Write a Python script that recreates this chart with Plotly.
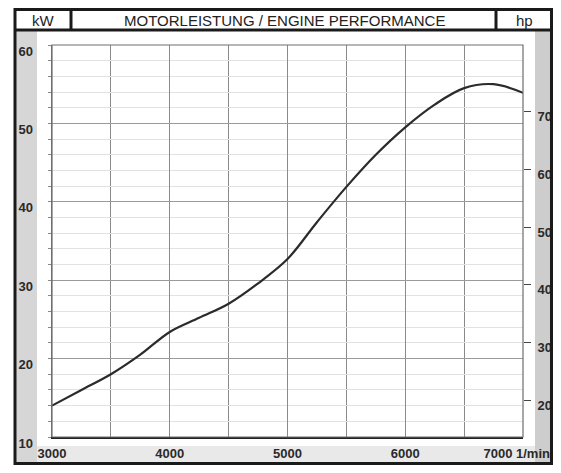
import plotly.graph_objects as go

# ---- data ----
rpm = [3000, 3250, 3500, 3750, 4000, 4250, 4500, 4750, 5000,
       5250, 5500, 5750, 6000, 6250, 6500, 6750, 7000]
kw = [14.0, 16.0, 18.0, 20.5, 23.4, 25.2, 27.0, 29.6, 32.7,
      37.4, 41.9, 46.0, 49.5, 52.4, 54.5, 55.0, 53.9]

x_ticks = [3000, 4000, 5000, 6000]
x_ticktext = ["3000", "4000", "5000", "6000"]
x_last_tick = [7000]
x_last_text = ["7000 1/min"]
kw_ticks = [10, 20, 30, 40, 50, 60]
hp_ticks = [20, 30, 40, 50, 60, 70]
KW_TO_HP = 1.35962

title_text = "MOTORLEISTUNG / ENGINE PERFORMANCE"
left_unit = "kW"
right_unit = "hp"

# ---- layout geometry ----
# page is 561x473; the html body keeps its default 8px margin,
# so the figure is 545x457 and sits at page offset (8, 8)
OFF = 8
W, H = 561 - 2 * OFF, 473 - 2 * OFF
# plot area in page pixels: x 52..523, y 45..437
L = 52 - OFF
R = W - (523 - OFF)
T = 45 - OFF
B = H - (437 - OFF)
PW, PH = W - L - R, H - T - B


def px(xp):
    """page pixel x -> paper coordinate"""
    return (xp - OFF - L) / PW


def py(yp):
    """page pixel y -> paper coordinate"""
    return (H - B - (yp - OFF)) / PH


LABEL_FONT = dict(family="Liberation Sans", size=13, color="#2a2a2a", weight="bold")

fig = go.Figure()
fig.add_trace(go.Scatter(
    x=rpm, y=kw, mode="lines",
    line=dict(color="#2b2b2b", width=2.2, shape="spline", smoothing=1.0),
    hoverinfo="skip", showlegend=False,
))
# invisible traces to activate the hp axis and the extra rpm label axis
fig.add_trace(go.Scatter(
    x=[rpm[0]], y=[kw[0] * KW_TO_HP], yaxis="y2", mode="markers",
    marker=dict(opacity=0), hoverinfo="skip", showlegend=False,
))
fig.add_trace(go.Scatter(
    x=[rpm[-1]], y=[kw[-1]], xaxis="x2", mode="markers",
    marker=dict(opacity=0), hoverinfo="skip", showlegend=False,
))

TOP, BOT, LEFT, RIGHT = 9.5, 463.5, 15, 551.5
HEAD = 30

shapes = []
# gray side strips and bottom band
shapes.append(dict(type="rect", xref="paper", yref="paper", layer="below",
                   x0=px(LEFT), x1=px(37), y0=py(BOT), y1=py(HEAD),
                   fillcolor="#d6d6d6", line=dict(width=0)))
shapes.append(dict(type="rect", xref="paper", yref="paper", layer="below",
                   x0=px(535), x1=px(RIGHT), y0=py(BOT), y1=py(HEAD),
                   fillcolor="#cdcdcd", line=dict(width=0)))
shapes.append(dict(type="rect", xref="paper", yref="paper", layer="below",
                   x0=px(37), x1=px(535), y0=py(BOT), y1=py(446),
                   fillcolor="#e9e9e9", line=dict(width=0)))
# plot border
shapes.append(dict(type="rect", xref="paper", yref="paper",
                   x0=0, x1=1, y0=0, y1=1,
                   line=dict(color="#6e6e6e", width=1.2)))
# outer frame
shapes.append(dict(type="rect", xref="paper", yref="paper",
                   x0=px(LEFT), x1=px(RIGHT), y0=py(BOT), y1=py(TOP),
                   line=dict(color="#1a1a1a", width=3)))
# header line and dividers
shapes.append(dict(type="line", xref="paper", yref="paper",
                   x0=px(LEFT), x1=px(RIGHT), y0=py(HEAD), y1=py(HEAD),
                   line=dict(color="#1a1a1a", width=3)))
for xd in (71, 496):
    shapes.append(dict(type="line", xref="paper", yref="paper",
                       x0=px(xd), x1=px(xd), y0=py(TOP), y1=py(HEAD),
                       line=dict(color="#1a1a1a", width=3)))

HEAD_FONT = dict(family="Liberation Sans", size=15, color="#222")
hy = py((TOP + HEAD) / 2 + 0.5)
annotations = [
    dict(text=left_unit, x=px(43), y=hy, xref="paper", yref="paper",
         xanchor="center", yanchor="middle", showarrow=False, font=HEAD_FONT),
    dict(text=title_text, x=px(284.5), y=hy, xref="paper", yref="paper",
         xanchor="center", yanchor="middle", showarrow=False, font=HEAD_FONT),
    dict(text=right_unit, x=px(524), y=hy, xref="paper", yref="paper",
         xanchor="center", yanchor="middle", showarrow=False, font=HEAD_FONT),
]

fig.update_layout(
    width=W, height=H,
    margin=dict(l=L, r=R, t=T, b=B, pad=0, autoexpand=False),
    paper_bgcolor="white", plot_bgcolor="white",
    shapes=shapes, annotations=annotations,
    xaxis=dict(
        range=[3000, 7000], tickmode="array", tickvals=x_ticks, ticktext=x_ticktext,
        showgrid=True, gridcolor="#8a8a8a", gridwidth=1,
        minor=dict(dtick=500, tick0=3000, showgrid=True, gridcolor="#8a8a8a", gridwidth=1),
        showline=True, linecolor="#222", linewidth=2,
        ticks="", tickfont=LABEL_FONT, ticklabelstandoff=3,
        ticklabeloverflow="allow",
        zeroline=False, fixedrange=True, automargin=False,
    ),
    xaxis2=dict(
        overlaying="x", anchor="y", side="bottom", matches="x",
        tickmode="array", tickvals=x_last_tick, ticktext=x_last_text,
        showgrid=False, showline=False, zeroline=False, ticks="",
        tickfont=LABEL_FONT, ticklabelstandoff=7,
        ticklabelposition="outside left", ticklabelshift=27,
        ticklabeloverflow="allow", fixedrange=True, automargin=False,
    ),
    yaxis=dict(
        range=[10, 60], tickmode="array", tickvals=kw_ticks,
        showgrid=True, gridcolor="#9a9a9a", gridwidth=1,
        minor=dict(dtick=2, tick0=10, showgrid=True, gridcolor="#e2e2e2",
                   gridwidth=1, ticks="outside", ticklen=3, tickcolor="#888"),
        showline=True, linecolor="#707070", linewidth=1.5,
        ticks="outside", ticklen=3, tickcolor="#888",
        tickfont=LABEL_FONT, ticklabelstandoff=12, ticklabelshift=6,
        zeroline=False, fixedrange=True, automargin=False,
    ),
    yaxis2=dict(
        overlaying="y", side="right",
        range=[10 * KW_TO_HP, 60 * KW_TO_HP], tickmode="array", tickvals=hp_ticks,
        showgrid=False, showline=False, zeroline=False,
        ticks="outside", ticklen=7, tickcolor="#444", tickwidth=1,
        tickfont=LABEL_FONT, ticklabelstandoff=4, ticklabelshift=5,
        fixedrange=True, automargin=False,
    ),
)

fig.write_html("out.html", config={"displayModeBar": False, "staticPlot": True})
